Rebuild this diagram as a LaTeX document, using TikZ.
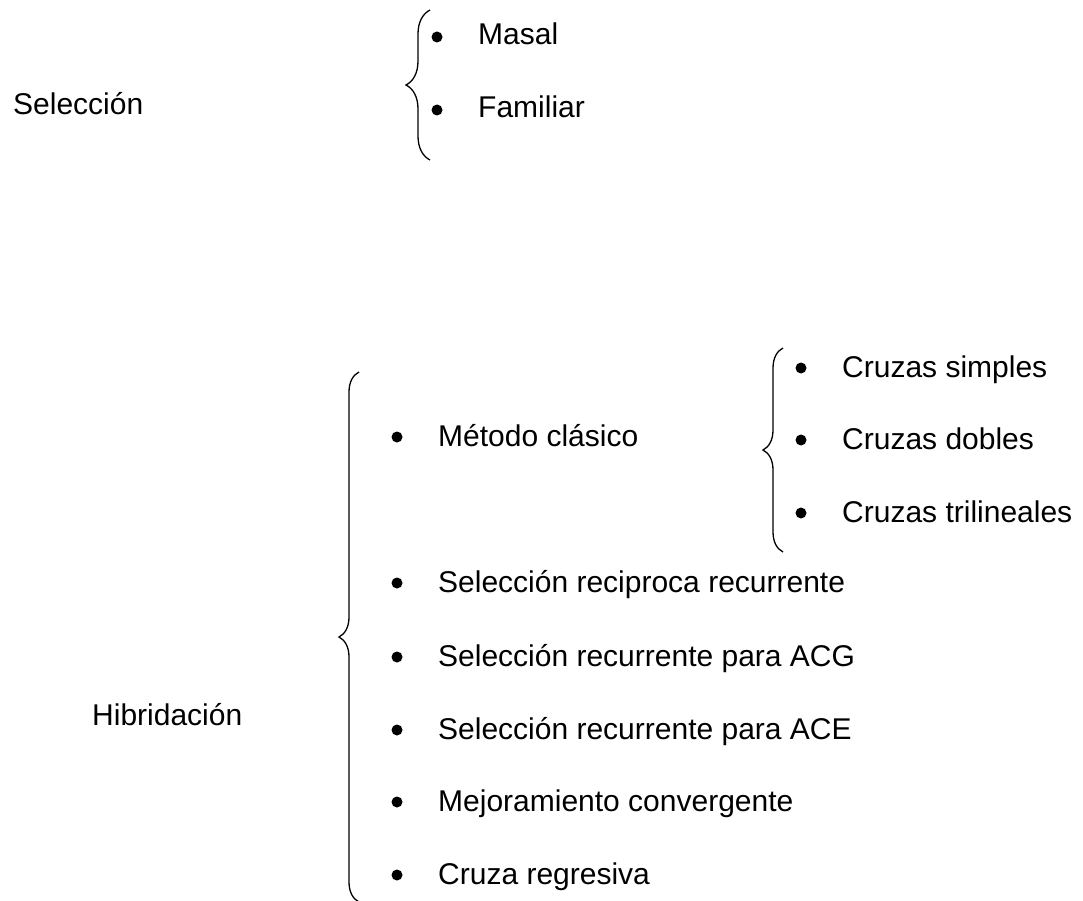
\documentclass[tikz,border=0pt]{standalone}
\usepackage{fontspec}
\setmainfont{Liberation Sans}
\usepackage{tikz}
\usetikzlibrary{positioning,decorations.pathreplacing}

\tikzset{
  item/.style={anchor=base west, inner sep=0pt, font=\fontsize{30}{36}\selectfont},
  dot/.style={circle, fill=black, inner sep=0pt, minimum size=11pt},
  llave/.style={draw, line width=1.3pt, decorate, decoration={brace, amplitude=#1}},
  llave/.default=20pt
}

\begin{document}
\begin{tikzpicture}[x=1pt, y=-1pt]
  \useasboundingbox (0,0) rectangle (1083,901);

  % Seleccion
  \node[item] (sel) at (13,115) {Selección};
  \coordinate (selbot) at (430,160);
  \coordinate (seltop) at (430,10);
  \draw[llave=24pt] (selbot) -- (seltop);
  \node[dot] (d1) at (437,37) {};
  \node[item] (masal) at (478,45) {Masal};
  \node[dot] (d2) at (437,110) {};
  \node[item] (fam) at (478,118) {Familiar};

  % Hibridacion
  \node[item] (hib) at (92,725) {Hibridación};
  \coordinate (hibbot) at (359,902);
  \coordinate (hibtop) at (359,372);
  \draw[llave] (hibbot) -- (hibtop);
  \node[dot] (h1) at (397,437) {};
  \node[item] (metodo) at (438,446) {Método clásico};
  \node[dot] (h2) at (397,583) {};
  \node[item] (srr) at (438,592) {Selección reciproca recurrente};
  \node[dot] (h3) at (397,657) {};
  \node[item] (acg) at (438,666) {Selección recurrente para ACG};
  \node[dot] (h4) at (397,730) {};
  \node[item] (ace) at (438,739) {Selección recurrente para ACE};
  \node[dot] (h5) at (397,802) {};
  \node[item] (mej) at (438,811) {Mejoramiento convergente};
  \node[dot] (h6) at (397,875) {};
  \node[item] (reg) at (438,884) {Cruza regresiva};

  % Cruzas del metodo clasico
  \coordinate (crbot) at (783,552);
  \coordinate (crtop) at (783,348);
  \draw[llave] (crbot) -- (crtop);
  \node[dot] (c1) at (801,368) {};
  \node[item] (simples) at (842,377) {Cruzas simples};
  \node[dot] (c2) at (801,440) {};
  \node[item] (dobles) at (842,449) {Cruzas dobles};
  \node[dot] (c3) at (801,513) {};
  \node[item] (tri) at (842,522) {Cruzas trilineales};
\end{tikzpicture}
\end{document}
